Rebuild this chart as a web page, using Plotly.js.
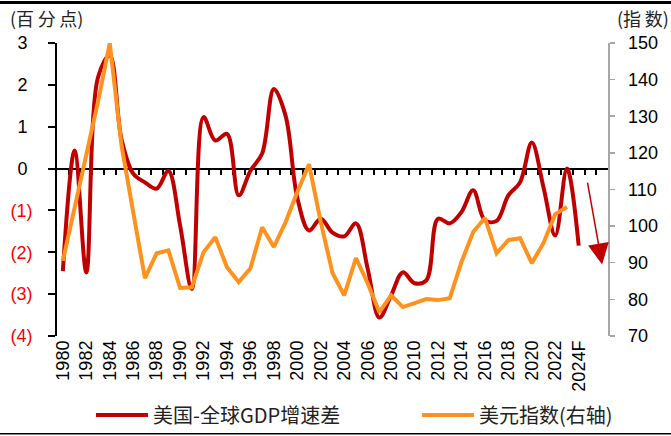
<!DOCTYPE html>
<html>
<head>
<meta charset="utf-8">
<script src="https://cdn.plot.ly/plotly-3.0.1.min.js"></script>
<style>
html,body{margin:0;padding:0;background:#fff;}
#chart{width:671px;height:436px;}
</style>
</head>
<body>
<div id="chart"></div>
<script>
var years = [1980,1981,1982,1983,1984,1985,1986,1987,1988,1989,1990,1991,1992,1993,1994,1995,1996,1997,1998,1999,2000,2001,2002,2003,2004,2005,2006,2007,2008,2009,2010,2011,2012,2013,2014,2015,2016,2017,2018,2019,2020,2021,2022,2023,2024];
var gdpDiff = [-2.45,0.43,-2.48,2.18,2.7,0.7,-0.12,-0.33,-0.48,-0.06,-1.36,-2.88,1.23,0.67,0.83,-0.64,-0.05,0.36,1.9,1.26,-0.7,-1.48,-1.2,-1.53,-1.62,-1.31,-2.39,-3.56,-3.03,-2.48,-2.74,-2.67,-1.2,-1.31,-1.04,-0.52,-1.24,-1.25,-0.64,-0.33,0.62,-0.45,-1.6,0.0,-1.84];
var dxyYears = [1980,1981,1982,1983,1984,1985,1986,1987,1988,1989,1990,1991,1992,1993,1994,1995,1996,1997,1998,1999,2000,2001,2002,2003,2004,2005,2006,2007,2008,2009,2010,2011,2012,2013,2014,2015,2016,2017,2018,2019,2020,2021,2022,2023];
var dxy = [90.5,105,120,134,150,122.1,103.8,85.8,92.6,93.4,83.1,83.3,92.9,97.0,88.8,84.7,88.5,99.7,94.3,101.1,109.3,116.9,101.1,87.2,81.1,91.3,84.4,76.5,81.1,77.9,79.0,80.1,79.8,80.3,90.2,98.4,102.2,92.6,96.2,96.7,89.9,95.4,103.3,105.2];
var xTickVals = [1980,1982,1984,1986,1988,1990,1992,1994,1996,1998,2000,2002,2004,2006,2008,2010,2012,2014,2016,2018,2020,2022,2024];
var xTickText = ["1980","1982","1984","1986","1988","1990","1992","1994","1996","1998","2000","2002","2004","2006","2008","2010","2012","2014","2016","2018","2020","2022","2024F"];
var yLeftVals = [-4,-3,-2,-1,0,1,2,3];
var yLeftText = ["(4)","(3)","(2)","(1)","0","1","2","3"];
var yRightVals = [70,80,90,100,110,120,130,140,150];
var yRightText = ["70","80","90","100","110","120","130","140","150"];
var boundaryTicks = [];
for (var i = 0; i < 46; i++) boundaryTicks.push(1980.5 + i);

var RED = '#C00000', ORANGE = '#FF921E';
function leftLabel(t, v) {
  return v < 0 ? '<span style="color:#FF0000">' + t + '</span>'
               : '<span style="color:#000000">' + t + '\u00a0</span>';
}
var leftTickMarks = yLeftVals.map(function (v) { return v + 0.0005; });
var rightTickMarks = yRightVals.map(function (v) { return v + 0.005; });

var tickFont = {family: 'Arial, "Liberation Sans", sans-serif', size: 18, color: '#000'};
var cjkFont = {family: '"Noto Sans CJK SC", sans-serif', size: 18, color: '#222'};
var legFont = {family: '"Noto Sans CJK SC", sans-serif', size: 20, color: '#222'};

var traces = [
  {x: years, y: gdpDiff, name: '美国-全球GDP增速差', type: 'scatter', mode: 'lines',
   line: {color: RED, width: 4, shape: 'spline', smoothing: 1}, xaxis: 'x', yaxis: 'y', legend: 'legend'},
  {x: dxyYears, y: dxy, name: '美元指数(右轴)', type: 'scatter', mode: 'lines',
   line: {color: ORANGE, width: 4}, xaxis: 'x2', yaxis: 'y2', legend: 'legend2'}
];

var layout = {
  width: 671, height: 436,
  margin: {l: 57, r: 63, t: 43, b: 100, autoexpand: false},
  paper_bgcolor: '#fff', plot_bgcolor: '#fff',
  showlegend: true,
  legend: {orientation: 'h', x: 0.0617, xanchor: 'left', y: -0.2696, yanchor: 'middle',
           font: legFont, bgcolor: 'rgba(0,0,0,0)', itemwidth: 52},
  legend2: {orientation: 'h', x: 0.6534, xanchor: 'left', y: -0.2696, yanchor: 'middle',
           font: legFont, bgcolor: 'rgba(0,0,0,0)', itemwidth: 52},
  xaxis: {range: [1979.5, 2026.5], tickmode: 'array', tickvals: xTickVals, ticktext: xTickText,
          tickangle: -90, tickfont: tickFont, showline: false, showgrid: false, zeroline: false,
          ticks: '', automargin: false},
  xaxis2: {range: [1979.5, 2026.5], overlaying: 'x', anchor: 'free', position: 4/7, side: 'bottom',
           tickmode: 'array', tickvals: boundaryTicks, showticklabels: false,
           ticks: 'outside', ticklen: 5, tickwidth: 2, tickcolor: '#000',
           showline: true, linecolor: '#000', linewidth: 2, showgrid: false, zeroline: false,
           layer: 'below traces', automargin: false},
  yaxis: {range: [-4, 3], tickmode: 'array', tickvals: yLeftVals,
          ticktext: yLeftText.map(function (t, i) { return leftLabel(t, yLeftVals[i]); }),
          tickfont: tickFont, showline: true, linecolor: '#000', linewidth: 2,
          ticks: 'outside', ticklen: 19, tickwidth: 2, tickcolor: 'rgba(0,0,0,0)',
          minor: {tickmode: 'array', tickvals: leftTickMarks, ticks: 'outside', ticklen: 7,
                  tickwidth: 2, tickcolor: '#000', showgrid: false},
          showgrid: false, zeroline: false, automargin: false},
  yaxis2: {range: [70, 150], tickmode: 'array', tickvals: yRightVals, ticktext: yRightText,
           overlaying: 'y', side: 'right', anchor: 'x',
           tickfont: tickFont, showline: true, linecolor: '#A6A6A6', linewidth: 1.5,
           ticks: 'outside', ticklen: 15, tickwidth: 1.5, tickcolor: 'rgba(0,0,0,0)',
           minor: {tickmode: 'array', tickvals: rightTickMarks, ticks: 'outside', ticklen: 5,
                   tickwidth: 1.5, tickcolor: '#A6A6A6', showgrid: false},
           showgrid: false, zeroline: false, automargin: false},
  shapes: [
    {type: 'line', xref: 'paper', yref: 'paper', x0: -0.11, x1: 1.12, y0: 1.138, y1: 1.138,
     line: {color: '#000', width: 3}},
    {type: 'line', xref: 'paper', yref: 'paper', x0: -0.11, x1: 1.12, y0: -0.334, y1: -0.334,
     line: {color: '#000', width: 1.5}}
  ],
  annotations: [
    {text: '(百\u2009分\u2009点)', xref: 'paper', yref: 'paper', x: -0.089, y: 1.085, xanchor: 'left', yanchor: 'middle',
     showarrow: false, font: cjkFont},
    {text: '(指\u2009数)', xref: 'paper', yref: 'paper', x: 1.0127, y: 1.085, xanchor: 'left', yanchor: 'middle',
     showarrow: false, font: cjkFont},
    {x: 2026.0, y: -2.29, xref: 'x', yref: 'y', ax: 2024.73, ay: -0.30, axref: 'x', ayref: 'y',
     showarrow: true, arrowhead: 2, arrowsize: 2.8, arrowwidth: 1.5, arrowcolor: RED, text: ''}
  ]
};

Plotly.newPlot('chart', traces, layout, {staticPlot: true});
</script>
</body>
</html>
